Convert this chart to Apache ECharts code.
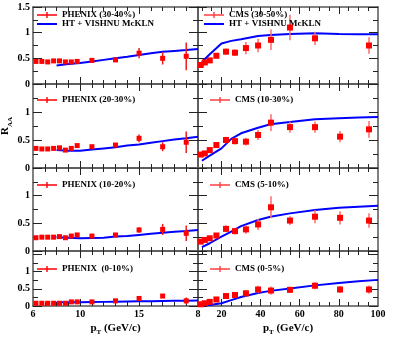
<!DOCTYPE html>
<html>
<head>
<meta charset="utf-8">
<title>RAA</title>
<style>html,body{margin:0;padding:0;background:#fff}</style>
</head>
<body>
<div id="main" style="width: 399px;height:337px;"></div>
<script src="https://cdn.jsdelivr.net/npm/echarts@6/dist/echarts.min.js"></script>
<script>
// pT bins
var phenixPt = [6.25, 6.75, 7.25, 7.75, 8.25, 8.75, 9.25, 9.75, 11, 13, 15, 17, 19];
var cmsPt = [9.4, 11.5, 14, 17.4, 22.3, 26.9, 32.5, 38.7, 45.3, 55, 67.8, 80.6, 95.4];
var modelPhenixPt = [8, 9, 10, 11, 12, 13, 14, 15, 16, 17, 18, 19, 20];
var modelCmsPt = [10, 14, 20, 25, 30, 38.7, 45, 55, 67.8, 80, 90, 100];

// PHENIX data
var phenix3040 = [0.44, 0.44, 0.43, 0.45, 0.45, 0.43, 0.43, 0.44, 0.46, 0.47, 0.60, 0.50, 0.54];
var phenix3040Err = [0.02, 0.02, 0.02, 0.02, 0.02, 0.02, 0.02, 0.02, 0.02, 0.03, 0.10, 0.12, 0.27];
var phenix2030 = [0.35, 0.34, 0.34, 0.35, 0.36, 0.32, 0.35, 0.40, 0.38, 0.41, 0.53, 0.38, 0.46];
var phenix2030Err = [0.02, 0.02, 0.02, 0.02, 0.02, 0.02, 0.02, 0.02, 0.02, 0.03, 0.07, 0.08, 0.19];
var phenix1020 = [0.24, 0.25, 0.25, 0.25, 0.26, 0.24, 0.27, 0.29, 0.27, 0.29, 0.38, 0.39, 0.32];
var phenix1020Err = [0.02, 0.02, 0.02, 0.02, 0.02, 0.02, 0.02, 0.02, 0.02, 0.02, 0.05, 0.10, 0.14];
var phenix0010 = [0.08, 0.08, 0.08, 0.08, 0.08, 0.08, 0.12, 0.12, 0.12, 0.15, 0.22, 0.29, 0.15];
var phenix0010Err = [0.01, 0.01, 0.01, 0.01, 0.01, 0.01, 0.01, 0.01, 0.02, 0.02, 0.03, 0.05, 0.10];

// CMS data
var cms3050 = [0.37, 0.42, 0.46, 0.55, 0.63, 0.61, 0.70, 0.75, 0.86, 1.10, 0.89, null, 0.75];
var cms3050Err = [0.02, 0.02, 0.03, 0.04, 0.06, 0.06, 0.12, 0.13, 0.20, 0.25, 0.13, null, 0.16];
var cms1030 = [0.24, 0.26, 0.32, 0.41, 0.50, 0.48, 0.47, 0.59, 0.81, 0.73, 0.73, 0.56, 0.69];
var cms1030Err = [0.02, 0.02, 0.03, 0.04, 0.06, 0.06, 0.07, 0.09, 0.15, 0.10, 0.10, 0.10, 0.15];
var cms0510 = [0.17, 0.20, 0.23, 0.28, 0.40, 0.36, 0.39, 0.48, 0.79, 0.55, 0.62, 0.60, 0.55];
var cms0510Err = [0.02, 0.02, 0.03, 0.03, 0.06, 0.06, 0.08, 0.10, 0.20, 0.08, 0.12, 0.12, 0.13];
var cms0005 = [0.05, 0.08, 0.12, 0.19, 0.29, 0.32, 0.37, 0.48, 0.45, 0.47, 0.59, 0.48, 0.48];
var cms0005Err = [0.02, 0.02, 0.02, 0.03, 0.04, 0.05, 0.09, 0.11, 0.12, 0.09, 0.10, 0.10, 0.12];

// HT + VISHNU McKLN curves
var model3040 = [0.36, 0.39, 0.41, 0.44, 0.47, 0.50, 0.53, 0.565, 0.60, 0.63, 0.645, 0.66, 0.68];
var model2030 = [0.32, 0.31, 0.31, 0.33, 0.35, 0.37, 0.40, 0.42, 0.45, 0.48, 0.51, 0.53, 0.56];
var model1020 = [0.25, 0.24, 0.23, 0.235, 0.24, 0.26, 0.27, 0.29, 0.31, 0.33, 0.35, 0.36, 0.38];
var model0010 = [0.11, 0.11, 0.11, 0.115, 0.12, 0.125, 0.13, 0.135, 0.14, 0.145, 0.15, 0.155, 0.16];
var model3050 = [0.43, 0.58, 0.79, 0.84, 0.87, 0.935, 0.955, 0.975, 0.99, 0.975, 0.97, 0.97];
var model1030 = [0.13, 0.22, 0.35, 0.52, 0.62, 0.72, 0.78, 0.82, 0.87, 0.89, 0.90, 0.91];
var model0510 = [0.07, 0.14, 0.26, 0.35, 0.45, 0.56, 0.62, 0.68, 0.74, 0.78, 0.80, 0.82];
var model0005 = [0.01, 0.03, 0.08, 0.17, 0.26, 0.38, 0.44, 0.51, 0.60, 0.67, 0.72, 0.76];

// tick values
var phenixTickLabels = [6, 10, 15];
var phenixMajor = [10, 15];
var phenixMinor = [7, 8, 9, 11, 12, 13, 14, 16, 17, 18, 19];
var cmsTickLabels = [8, 20, 40, 60, 80, 100];
var cmsMajor = [20, 40, 60, 80];
var cmsMinor = [10, 15, 25, 30, 35, 45, 50, 55, 65, 70, 75, 85, 90, 95];

var modelName = 'HT + VISHNU McKLN';
var panels = [
    {row: 0, col: 0, name: 'PHENIX (30-40%)', pt: phenixPt, val: phenix3040, err: phenix3040Err, mPt: modelPhenixPt, model: model3040},
    {row: 0, col: 1, name: 'CMS (30-50%)', pt: cmsPt, val: cms3050, err: cms3050Err, mPt: modelCmsPt, model: model3050},
    {row: 1, col: 0, name: 'PHENIX (20-30%)', pt: phenixPt, val: phenix2030, err: phenix2030Err, mPt: modelPhenixPt, model: model2030},
    {row: 1, col: 1, name: 'CMS (10-30%)', pt: cmsPt, val: cms1030, err: cms1030Err, mPt: modelCmsPt, model: model1030},
    {row: 2, col: 0, name: 'PHENIX (10-20%)', pt: phenixPt, val: phenix1020, err: phenix1020Err, mPt: modelPhenixPt, model: model1020},
    {row: 2, col: 1, name: 'CMS (5-10%)', pt: cmsPt, val: cms0510, err: cms0510Err, mPt: modelCmsPt, model: model0510},
    {row: 3, col: 0, name: 'PHENIX  (0-10%)', pt: phenixPt, val: phenix0010, err: phenix0010Err, mPt: modelPhenixPt, model: model0010},
    {row: 3, col: 1, name: 'CMS (0-5%)', pt: cmsPt, val: cms0005, err: cms0005Err, mPt: modelCmsPt, model: model0005}
];

var rows = [[7, 84], [84, 168], [168, 251], [251, 306]];
var cols = [[33, 198], [198, 378]];
var yMax = [1.5, 1.5, 1.5, 1.6];
var legendTops = [10.5, 95.5, 180.5, 264.5];

var frameColor = '#555';
var tickColor = '#222';
var serif = 'Liberation Serif';
var errIcon = 'path://M0,2.7L20,2.7L20,4.3L0,4.3Z M9.3,0.5L10.7,0.5L10.7,6.5L9.3,6.5Z';
var lineIcon = 'path://M0,0L20,0L20,2L0,2Z';

var grids = [], xAxes = [], yAxes = [], series = [], legends = [];

panels.forEach(function (p, k) {
    var r = p.row, c = p.col;
    grids.push({
        left: cols[c][0], top: rows[r][0],
        width: cols[c][1] - cols[c][0], height: rows[r][1] - rows[r][0],
        outerBoundsMode: 'none'
    });
    var xr = c === 0 ? [6, 20] : [8, 100];
    ['bottom', 'top'].forEach(function (pos) {
        var showLab = pos === 'bottom' && r === 3;
        xAxes.push({
            gridIndex: k, type: 'value', position: pos, min: xr[0], max: xr[1],
            axisLine: {onZero: false, lineStyle: {color: frameColor, width: 1.5}},
            axisTick: {inside: true, length: 7, customValues: c === 0 ? phenixMajor : cmsMajor, lineStyle: {color: tickColor}},
            axisLabel: {show: showLab, customValues: c === 0 ? phenixTickLabels : cmsTickLabels, margin: 3,
                color: '#000', fontFamily: serif, fontWeight: 'bold', fontSize: 10},
            splitLine: {show: false},
            name: showLab ? '{p|p}{s|T}{p| (GeV/c)}' : '',
            nameLocation: 'middle', nameGap: 14,
            nameTextStyle: {rich: {
                p: {fontFamily: serif, fontWeight: 'bold', fontSize: 11, lineHeight: 16, color: '#000'},
                s: {fontFamily: serif, fontWeight: 'bold', fontSize: 7, lineHeight: 7, verticalAlign: 'bottom', color: '#000'}
            }}
        });
        xAxes.push({
            gridIndex: k, type: 'value', position: pos, min: xr[0], max: xr[1],
            axisLine: {show: false, onZero: false},
            axisTick: {inside: true, length: 4, customValues: c === 0 ? phenixMinor : cmsMinor, lineStyle: {color: tickColor}},
            axisLabel: {show: false},
            splitLine: {show: false}
        });
    });
    ['left', 'right'].forEach(function (pos) {
        var showLab = pos === 'left' && c === 0;
        yAxes.push({
            gridIndex: k, type: 'value', position: pos, min: 0, max: yMax[r], interval: 0.5,
            axisLine: {onZero: false, lineStyle: {color: frameColor, width: 1.5}},
            axisTick: {inside: true, length: 9, lineStyle: {color: tickColor}},
            minorTick: {show: true, splitNumber: 2, length: 5, lineStyle: {color: tickColor}},
            axisLabel: {show: showLab, margin: 3, color: '#000', fontFamily: serif, fontWeight: 'bold', fontSize: 10,
                formatter: function (v) {
                    if (v === 0 || v === 0.5 || v === 1) return String(v);
                    if (v === 1.5 && r === 0) return '1.5';
                    return '';
                }},
            splitLine: {show: false}, minorSplitLine: {show: false},
            name: (showLab && r === 1) ? '{r|R}{s|AA}' : '',
            nameLocation: 'middle', nameRotate: 90, nameGap: 16,
            nameTextStyle: {rich: {
                r: {fontFamily: serif, fontWeight: 'bold', fontSize: 11, lineHeight: 16, color: '#000'},
                s: {fontFamily: serif, fontWeight: 'bold', fontSize: 7, lineHeight: 7, verticalAlign: 'bottom', color: '#000'}
            }}
        });
    });

    var pts = [], errs = [];
    p.pt.forEach(function (x, i) {
        if (p.val[i] == null) return;
        pts.push([x, p.val[i]]);
        errs.push([x, p.val[i], p.err[i]]);
    });
    var barColor = c === 0 ? '#ee1c1c' : '#ff6a6a';

    series.push({
        type: 'line', name: modelName, xAxisIndex: 4 * k, yAxisIndex: 2 * k,
        data: p.mPt.map(function (x, i) { return [x, p.model[i]]; }),
        symbol: 'none', lineStyle: {color: '#0000ff', width: 2}, itemStyle: {color: '#0000ff'},
        z: 2, silent: true
    });
    series.push({
        type: 'custom', xAxisIndex: 4 * k, yAxisIndex: 2 * k, data: errs, z: 3, silent: true,
        renderItem: function (params, api) {
            var x = api.value(0), y = api.value(1), e = api.value(2);
            var a = api.coord([x, y - e]), b = api.coord([x, y + e]);
            return {type: 'line', shape: {x1: a[0], y1: a[1], x2: b[0], y2: b[1]},
                style: {stroke: barColor, lineWidth: 1.5}};
        }
    });
    series.push({
        type: 'scatter', name: p.name, xAxisIndex: 4 * k, yAxisIndex: 2 * k, data: pts,
        symbol: 'rect', symbolSize: c === 0 ? 5 : 6, itemStyle: {color: '#ff0000', opacity: 1}, z: 4, silent: true
    });

    var items = [{name: p.name, icon: errIcon, itemStyle: {color: c === 0 ? '#ff0000' : '#ff4040', opacity: 1}}];
    if (r === 0) items.push({name: modelName, icon: lineIcon, itemStyle: {color: '#0000ff', opacity: 1}});
    legends.push({
        left: c === 0 ? 37 : (r === 0 ? 204 : 210), top: legendTops[r],
        orient: 'vertical', padding: 0, itemGap: 0, itemWidth: 20, itemHeight: 7,
        selectedMode: false,
        textStyle: {fontFamily: serif, fontWeight: 'bold', fontSize: 9, lineHeight: 9, color: '#000'},
        data: items
    });
});

var myChart = echarts.init(document.getElementById('main'));
myChart.setOption({
    animation: false,
    backgroundColor: '#fff',
    grid: grids,
    xAxis: xAxes,
    yAxis: yAxes,
    legend: legends,
    series: series
});
</script>
</body>
</html>
